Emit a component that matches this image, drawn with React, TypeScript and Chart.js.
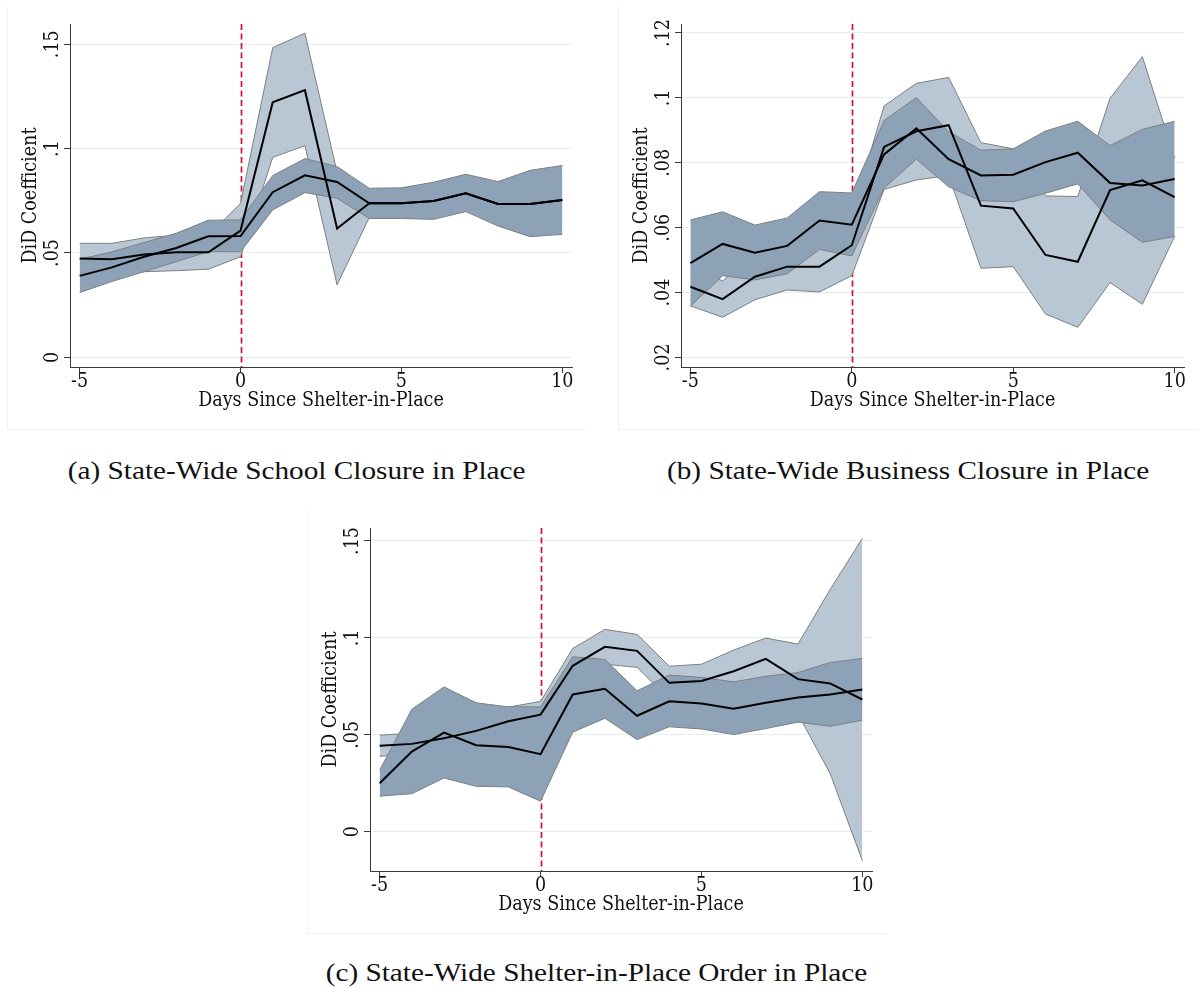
import React, { useEffect, useRef } from "react";
import { Chart, registerables } from "chart.js";

Chart.register(...registerables);

// ---------------- data ----------------
const DAYS = [-5, -4, -3, -2, -1, 0, 1, 2, 3, 4, 5, 6, 7, 8, 9, 10];
const X_TICKS = [-5, 0, 5, 10];
const REF_DAY = 0;
const X_TITLE = "Days Since Shelter-in-Place";
const Y_TITLE = "DiD Coefficient";

// (a) State-Wide School Closure in Place
const A_Y_TICKS = [0, 0.05, 0.1, 0.15];
const A_LIGHT_COEF = [0.0473, 0.047, 0.0492, 0.0503, 0.0503, 0.0607, 0.1222, 0.128, 0.0617, 0.0738, 0.0738, 0.0749, 0.0786, 0.0735, 0.0735, 0.0754];
const A_LIGHT_HI = [0.0546, 0.0546, 0.0572, 0.0585, 0.0584, 0.0738, 0.1484, 0.1553, 0.0887, 0.08, 0.08, 0.081, 0.085, 0.081, 0.082, 0.084];
const A_LIGHT_LO = [0.04, 0.0394, 0.041, 0.0415, 0.0422, 0.0482, 0.0958, 0.1014, 0.0347, 0.067, 0.068, 0.069, 0.072, 0.066, 0.065, 0.067];
const A_DARK_COEF = [0.039, 0.0431, 0.0482, 0.0524, 0.058, 0.0581, 0.0791, 0.0872, 0.084, 0.0738, 0.0738, 0.0749, 0.0786, 0.0735, 0.0735, 0.0754];
const A_DARK_HI = [0.047, 0.0505, 0.055, 0.0594, 0.0657, 0.0658, 0.0871, 0.0952, 0.0914, 0.081, 0.0812, 0.0839, 0.0877, 0.0842, 0.0896, 0.0919];
const A_DARK_LO = [0.031, 0.0363, 0.041, 0.0458, 0.0506, 0.0506, 0.0706, 0.0789, 0.0762, 0.0665, 0.0665, 0.0661, 0.0698, 0.0629, 0.0578, 0.0589];

// (b) State-Wide Business Closure in Place
const B_Y_TICKS = [0.02, 0.04, 0.06, 0.08, 0.1, 0.12];
const B_LIGHT_COEF = [0.0418, 0.038, 0.0449, 0.048, 0.048, 0.0546, 0.0849, 0.0897, 0.0916, 0.0668, 0.0659, 0.0516, 0.0495, 0.0716, 0.0746, 0.0694];
const B_LIGHT_HI = [0.0477, 0.0436, 0.052, 0.0552, 0.0558, 0.064, 0.0975, 0.1045, 0.1063, 0.0862, 0.0843, 0.0698, 0.0696, 0.0999, 0.1127, 0.0815];
const B_LIGHT_LO = [0.0359, 0.0324, 0.0378, 0.0408, 0.0402, 0.0452, 0.0718, 0.0747, 0.0761, 0.0475, 0.048, 0.0334, 0.0293, 0.0431, 0.0364, 0.0573];
const B_DARK_COEF = [0.0491, 0.055, 0.0523, 0.0544, 0.0622, 0.0609, 0.0826, 0.0906, 0.0811, 0.0761, 0.0763, 0.0802, 0.0831, 0.0738, 0.073, 0.075];
const B_DARK_HI = [0.0624, 0.0649, 0.0608, 0.063, 0.0711, 0.0707, 0.093, 0.1001, 0.0896, 0.0839, 0.0843, 0.0898, 0.0928, 0.0853, 0.0903, 0.0928];
const B_DARK_LO = [0.0358, 0.0452, 0.0439, 0.0458, 0.0533, 0.0513, 0.0722, 0.0811, 0.0726, 0.0683, 0.068, 0.0706, 0.0735, 0.0624, 0.0555, 0.0573];

// (c) State-Wide Shelter-in-Place Order in Place
const C_Y_TICKS = [0, 0.05, 0.1, 0.15];
const C_LIGHT_COEF = [0.0443, 0.0453, 0.0482, 0.052, 0.057, 0.0604, 0.0856, 0.0954, 0.0933, 0.0768, 0.0778, 0.0828, 0.0892, 0.0787, 0.0765, 0.0682];
const C_LIGHT_HI = [0.0498, 0.0508, 0.054, 0.058, 0.0643, 0.0672, 0.0945, 0.1044, 0.1018, 0.0854, 0.0864, 0.0937, 0.0999, 0.0968, 0.125, 0.1514];
const C_LIGHT_LO = [0.0389, 0.0398, 0.0425, 0.046, 0.0497, 0.0536, 0.0767, 0.0864, 0.0848, 0.0682, 0.0692, 0.0719, 0.0785, 0.0606, 0.03, -0.015];
const C_DARK_COEF = [0.025, 0.0413, 0.0511, 0.0446, 0.0437, 0.04, 0.0708, 0.0737, 0.0598, 0.0673, 0.0661, 0.0634, 0.0665, 0.0692, 0.0708, 0.0734];
const C_DARK_HI = [0.0317, 0.0632, 0.0747, 0.0665, 0.0644, 0.0644, 0.0902, 0.0889, 0.0727, 0.0808, 0.0796, 0.0773, 0.0802, 0.0821, 0.0873, 0.0894];
const C_DARK_LO = [0.0183, 0.0196, 0.0277, 0.0234, 0.0231, 0.0157, 0.0513, 0.0585, 0.0475, 0.0541, 0.053, 0.0501, 0.0532, 0.0565, 0.0544, 0.0575];

const CAPTION_A = "(a) State-Wide School Closure in Place";
const CAPTION_B = "(b) State-Wide Business Closure in Place";
const CAPTION_C = "(c) State-Wide Shelter-in-Place Order in Place";

// ---------------- style ----------------
const FONT = "'DejaVu Serif Condensed', 'DejaVu Serif', serif";
const FONT_SIZE = 19.5;
const CAPTION_FONT = "'Liberation Serif', 'Times New Roman', serif";
const LIGHT_FILL = "#b8c7d3";
const DARK_FILL = "#8da2b7";
const EDGE = "#7d8083";
const LINE = "#000000";
const RED = "#c8143c";
const GRID = "#e4edef";
const AXIS = "#3a3a3a";
const TEXT = "#111111";
const FRAME = "#edf2f3";

const Y_AXIS_W = 63;
const PAD_T = 17;
const PAD_R = 14;
const X_AXIS_H = 63;

type Series = { coef: number[]; hi: number[]; lo: number[] };
type Panel = {
  caption: string;
  yTicks: number[];
  yMin: number;
  yMax: number;
  xMin: number;
  xMax: number;
  light: Series;
  dark: Series;
  plot: { l: number; t: number; r: number; b: number };
  captionBaseline: number;
};

const PANELS: Panel[] = [
  {
    caption: CAPTION_A,
    yTicks: A_Y_TICKS,
    yMin: -0.00465,
    yMax: 0.1597,
    xMin: -5.3,
    xMax: 10.3,
    light: { coef: A_LIGHT_COEF, hi: A_LIGHT_HI, lo: A_LIGHT_LO },
    dark: { coef: A_DARK_COEF, hi: A_DARK_HI, lo: A_DARK_LO },
    plot: { l: 70, t: 24, r: 572, b: 367 },
    captionBaseline: 478.5,
  },
  {
    caption: CAPTION_B,
    yTicks: B_Y_TICKS,
    yMin: 0.01707,
    yMax: 0.12277,
    xMin: -5.29,
    xMax: 10.29,
    light: { coef: B_LIGHT_COEF, hi: B_LIGHT_HI, lo: B_LIGHT_LO },
    dark: { coef: B_DARK_COEF, hi: B_DARK_HI, lo: B_DARK_LO },
    plot: { l: 681, t: 24, r: 1184, b: 367 },
    captionBaseline: 478.5,
  },
  {
    caption: CAPTION_C,
    yTicks: C_Y_TICKS,
    yMin: -0.0203,
    yMax: 0.1567,
    xMin: -5.3,
    xMax: 10.3,
    light: { coef: C_LIGHT_COEF, hi: C_LIGHT_HI, lo: C_LIGHT_LO },
    dark: { coef: C_DARK_COEF, hi: C_DARK_HI, lo: C_DARK_LO },
    plot: { l: 370, t: 528, r: 872, b: 871 },
    captionBaseline: 981,
  },
];

function fmt(v: number): string {
  if (v === 0) return "0";
  const s = String(+Number(v).toFixed(4));
  return s.replace(/^0\./, ".").replace(/^-0\./, "-.");
}

const refLinePlugin = {
  id: "refLine",
  beforeDatasetsDraw(chart: any) {
    const { ctx, chartArea, scales } = chart;
    const x = Math.round(scales.x.getPixelForValue(REF_DAY)) + 0.5;
    ctx.save();
    ctx.strokeStyle = RED;
    ctx.lineWidth = 1.7;
    ctx.setLineDash([6, 3.5]);
    ctx.beginPath();
    ctx.moveTo(x, chartArea.top);
    ctx.lineTo(x, chartArea.bottom);
    ctx.stroke();
    ctx.restore();
  },
};

function PanelChart({ p }: { p: Panel }) {
  const ref = useRef<HTMLCanvasElement>(null);
  useEffect(() => {
    if (!ref.current) return;
    const pts = (ys: number[]) => DAYS.map((d, i) => ({ x: d, y: ys[i] }));
    const edge = (ys: number[], order: number, fillColor?: string) => ({
      data: pts(ys),
      borderColor: EDGE,
      borderWidth: 1,
      backgroundColor: fillColor || "transparent",
      fill: fillColor ? "-1" : false,
      pointRadius: 0,
      pointHoverRadius: 0,
      tension: 0,
      order,
    });
    const line = (ys: number[], order: number) => ({
      data: pts(ys),
      borderColor: LINE,
      borderWidth: 2,
      backgroundColor: "transparent",
      fill: false,
      pointRadius: 0,
      pointHoverRadius: 0,
      tension: 0,
      order,
    });
    const tickFont = { family: FONT, size: FONT_SIZE, lineHeight: 1 };
    const chart = new Chart(ref.current, {
      type: "line",
      data: {
        datasets: [
          edge(p.light.hi, 5),
          edge(p.light.lo, 6, LIGHT_FILL),
          edge(p.dark.hi, 3),
          edge(p.dark.lo, 4, DARK_FILL),
          line(p.light.coef, 2),
          line(p.dark.coef, 1),
        ] as any,
      },
      options: {
        animation: false,
        responsive: true,
        maintainAspectRatio: false,
        events: [],
        layout: { padding: { top: PAD_T, right: PAD_R, left: 0, bottom: 0 } },
        plugins: {
          legend: { display: false },
          tooltip: { enabled: false },
          filler: { drawTime: "beforeDatasetDraw" },
        } as any,
        scales: {
          x: {
            type: "linear",
            min: p.xMin,
            max: p.xMax,
            afterBuildTicks: (s: any) => {
              s.ticks = X_TICKS.map((v) => ({ value: v }));
            },
            afterFit: (s: any) => {
              s.height = X_AXIS_H;
            },
            ticks: {
              font: tickFont,
              color: TEXT,
              padding: -1,
              maxRotation: 0,
              minRotation: 0,
              autoSkip: false,
              callback: (v: any) => fmt(Number(v)),
            },
            grid: {
              drawOnChartArea: false,
              drawTicks: true,
              tickLength: 6,
              tickColor: AXIS,
              tickWidth: 1,
            },
            border: { display: true, color: AXIS, width: 1 },
            title: {
              display: true,
              text: X_TITLE,
              font: tickFont,
              color: TEXT,
              padding: { top: 0, bottom: 19.5 },
            },
          },
          y: {
            type: "linear",
            min: p.yMin,
            max: p.yMax,
            afterBuildTicks: (s: any) => {
              s.ticks = p.yTicks.map((v) => ({ value: v }));
            },
            afterFit: (s: any) => {
              s.width = Y_AXIS_W;
            },
            ticks: {
              font: tickFont,
              color: TEXT,
              padding: -3,
              minRotation: 90,
              maxRotation: 90,
              crossAlign: "center",
              autoSkip: false,
              callback: (v: any) => fmt(Number(v)),
            },
            grid: {
              color: GRID,
              lineWidth: 1,
              drawTicks: true,
              tickLength: 6,
              tickColor: AXIS,
              tickWidth: 1,
            },
            border: { display: true, color: AXIS, width: 1 },
            title: {
              display: true,
              text: Y_TITLE,
              font: tickFont,
              color: TEXT,
              padding: { top: 14, bottom: 0 },
            },
          },
        } as any,
      },
      plugins: [refLinePlugin],
    });
    return () => chart.destroy();
  }, [p]);

  const boxL = p.plot.l - Y_AXIS_W;
  const boxT = p.plot.t - PAD_T;
  const boxW = p.plot.r + PAD_R - boxL;
  const boxH = p.plot.b + X_AXIS_H - boxT;
  return (
    <>
      <div
        style={{
          position: "absolute",
          left: boxL,
          top: boxT,
          width: boxW,
          height: boxH,
          borderLeft: `1px solid ${FRAME}`,
          borderBottom: `1px solid ${FRAME}`,
          boxSizing: "border-box",
        }}
      />
      <div style={{ position: "absolute", left: boxL, top: boxT, width: boxW, height: boxH }}>
        <canvas ref={ref} />
      </div>
      <div
        style={{
          position: "absolute",
          left: boxL,
          width: boxW,
          top: p.captionBaseline - 20.9,
          textAlign: "center",
          fontFamily: CAPTION_FONT,
          fontSize: 25,
          lineHeight: "25px",
          color: "#111",
          whiteSpace: "nowrap",
        }}
      >
        <span style={{ display: "inline-block", transform: "scaleX(1.17)" }}>{p.caption}</span>
      </div>
    </>
  );
}

export default function App() {
  return (
    <div
      style={{
        position: "absolute",
        left: 0,
        top: 0,
        width: 1198,
        height: 987,
        background: "#ffffff",
        overflow: "hidden",
      }}
    >
      {PANELS.map((p, i) => (
        <PanelChart key={i} p={p} />
      ))}
    </div>
  );
}
